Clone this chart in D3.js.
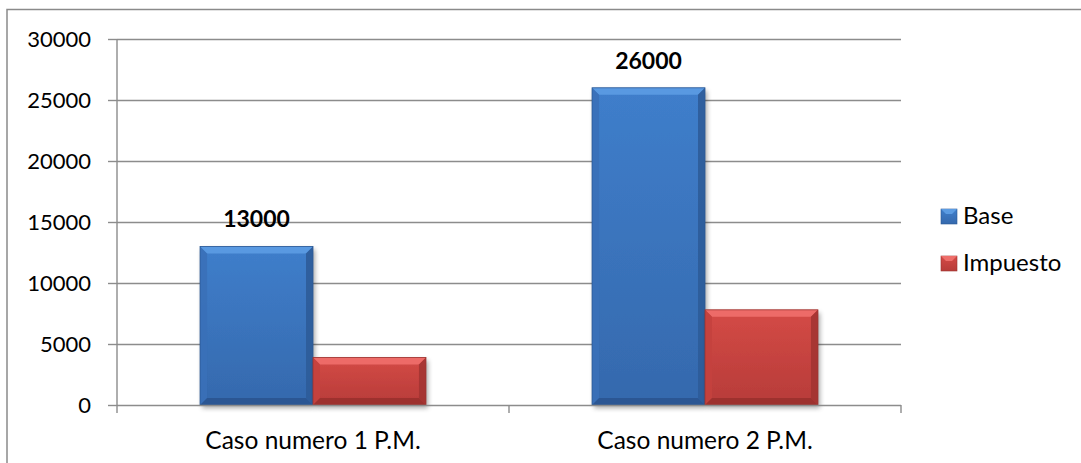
<!DOCTYPE html>
<html><head><meta charset="utf-8">
<script src="https://cdn.jsdelivr.net/npm/d3@7"></script>
<style>
html,body{margin:0;padding:0;background:#fff;}
svg{display:block;}
text{font-family:Lato,"Open Sans",sans-serif;fill:#000;}
</style></head>
<body>
<svg id="chart" width="1081" height="463"></svg>
<script>
const categories = ["Caso numero 1 P.M.", "Caso numero 2 P.M."];
const seriesNames = ["Base", "Impuesto"];
const baseValues = [13000, 26000];
const impuestoValues = [3900, 7800];
const yTicks = [0, 5000, 10000, 15000, 20000, 25000, 30000];
const labelSeries = "Base";

const svg = d3.select("#chart");
const W = 1081, H = 463;
const plot = {left:117, right:901, top:39, bottom:405};

const colors = {
  Base: {top:"#5b9be2", main0:"#3f7ecb", main1:"#3569ad", left:"#3a70b8", right:"#2d5c99", bottom:"#2a5490", stroke:"#2b5894"},
  Impuesto: {top:"#ee6e6a", main0:"#d44a46", main1:"#b73c39", left:"#c4413e", right:"#a33432", bottom:"#9a302e", stroke:"#9c3431"}
};

const defs = svg.append("defs");
seriesNames.forEach((s,i)=>{
  const g = defs.append("linearGradient").attr("id","grad"+i).attr("x1",0).attr("y1",0).attr("x2",0).attr("y2",1);
  g.append("stop").attr("offset","0%").attr("stop-color",colors[s].main0);
  g.append("stop").attr("offset","100%").attr("stop-color",colors[s].main1);
});
const f = defs.append("filter").attr("id","shadow").attr("x","-10%").attr("y","-10%").attr("width","130%").attr("height","130%");
f.append("feGaussianBlur").attr("in","SourceAlpha").attr("stdDeviation",2.5);
f.append("feOffset").attr("dx",2).attr("dy",3).attr("result","ob");
f.append("feComponentTransfer").append("feFuncA").attr("type","linear").attr("slope",0.35);
const fm = f.append("feMerge"); fm.append("feMergeNode"); fm.append("feMergeNode").attr("in","SourceGraphic");

// outer frame (clipped at right/bottom like the reference)
svg.append("path").attr("d",`M7,${H+5} L7,9.5 L${W+5},9.5`).attr("fill","none").attr("stroke","#8a8a8a").attr("stroke-width",1.5);

const y = d3.scaleLinear().domain([0,30000]).range([plot.bottom, plot.top]);
const x0 = d3.scaleBand().domain(categories).range([plot.left, plot.right]).padding(0);
const x1 = d3.scaleBand().domain(seriesNames).range([0, x0.bandwidth()]).paddingInner(0).paddingOuter(0.735);

// gridlines
svg.append("g").selectAll("line").data(yTicks.filter(d=>d>0)).join("line")
  .attr("x1",plot.left).attr("x2",plot.right)
  .attr("y1",d=>Math.round(y(d))+0.5).attr("y2",d=>Math.round(y(d))+0.5)
  .attr("stroke","#8c8c8c").attr("stroke-width",1.4);

// y axis
const yAxis = svg.append("g").attr("transform",`translate(${plot.left},0)`)
  .call(d3.axisLeft(y).tickValues(yTicks).tickSize(9).tickPadding(17).tickFormat(d3.format("d")));
yAxis.selectAll("line,path").attr("stroke","#8c8c8c").attr("stroke-width",1.4);
yAxis.select(".domain").attr("d",`M0,${y(30000)}V${y(0)}`);
yAxis.selectAll("text").attr("font-size",22).attr("font-family","Lato").attr("fill","#000");

// bars
const data = categories.map((c,i)=>({cat:c, vals:[{s:"Base",v:baseValues[i]},{s:"Impuesto",v:impuestoValues[i]}]}));
const groups = svg.append("g").selectAll("g").data(data).join("g")
  .attr("transform",d=>`translate(${x0(d.cat)},0)`);
const bars = groups.selectAll("g.bar").data(d=>d.vals).join("g").attr("class","bar");
const b = 7;
bars.each(function(d,i){
  const g = d3.select(this);
  const bx = x1(d.s), bw = x1.bandwidth(), by = y(d.v), bh = y(0)-y(d.v);
  const c = colors[d.s];
  const si = seriesNames.indexOf(d.s);
  g.append("rect").attr("x",bx).attr("y",by).attr("width",bw).attr("height",bh)
    .attr("fill",`url(#grad${si})`).attr("filter","url(#shadow)");
  const poly = (pts,fill,op)=>g.append("polygon").attr("points",pts.map(p=>p.join(",")).join(" ")).attr("fill",fill).attr("opacity",op);
  poly([[bx,by],[bx+bw,by],[bx+bw-b,by+b],[bx+b,by+b]], c.top, 0.95);
  poly([[bx,by],[bx+b,by+b],[bx+b,by+bh-b],[bx,by+bh]], c.left, 0.9);
  poly([[bx+bw,by],[bx+bw,by+bh],[bx+bw-b,by+bh-b],[bx+bw-b,by+b]], c.right, 0.9);
  poly([[bx,by+bh],[bx+b,by+bh-b],[bx+bw-b,by+bh-b],[bx+bw,by+bh]], c.bottom, 0.9);
  g.append("rect").attr("x",bx).attr("y",by).attr("width",bw).attr("height",bh)
    .attr("fill","none").attr("stroke",c.stroke).attr("stroke-width",0.8);
});

// data labels for Base
groups.selectAll("text.lbl").data(d=>d.vals.filter(v=>v.s===labelSeries)).join("text").attr("class","lbl")
  .attr("x",d=>x1(d.s)+x1.bandwidth()/2).attr("y",d=>y(d.v)-19)
  .attr("text-anchor","middle").attr("font-size",23).attr("font-weight","bold")
  .text(d=>d.v);

// x axis
const xAxis = svg.append("g").attr("transform",`translate(0,${plot.bottom})`)
  .call(d3.axisBottom(x0).tickSize(0).tickPadding(0));
xAxis.select(".domain").attr("d",`M${plot.left},0.5H${plot.right}`).attr("stroke","#8c8c8c").attr("stroke-width",1.4);
xAxis.selectAll(".tick line").remove();
xAxis.selectAll("text").attr("font-size",24.5).attr("font-family","Lato").attr("fill","#000").attr("y",44).attr("dy",0);
const bounds = [plot.left, ...categories.map(c=>x0(c)+x0.bandwidth())];
xAxis.selectAll("line.sep").data(bounds).join("line").attr("class","sep")
  .attr("x1",d=>d).attr("x2",d=>d).attr("y1",0).attr("y2",8)
  .attr("stroke","#8c8c8c").attr("stroke-width",1.4);

// legend
const legend = svg.append("g").selectAll("g").data(seriesNames).join("g")
  .attr("transform",(d,i)=>`translate(941,${209+i*47})`);
legend.each(function(s,i){
  const g = d3.select(this); const c = colors[s];
  g.append("rect").attr("width",16).attr("height",15).attr("fill",`url(#grad${i})`).attr("stroke",c.stroke).attr("stroke-width",0.6);
  g.append("polygon").attr("points","0,0 16,0 11,5 5,5").attr("fill",c.top);
});
legend.append("text").attr("x",22).attr("y",15).attr("font-size",24).text(d=>d);
</script>
</body></html>
